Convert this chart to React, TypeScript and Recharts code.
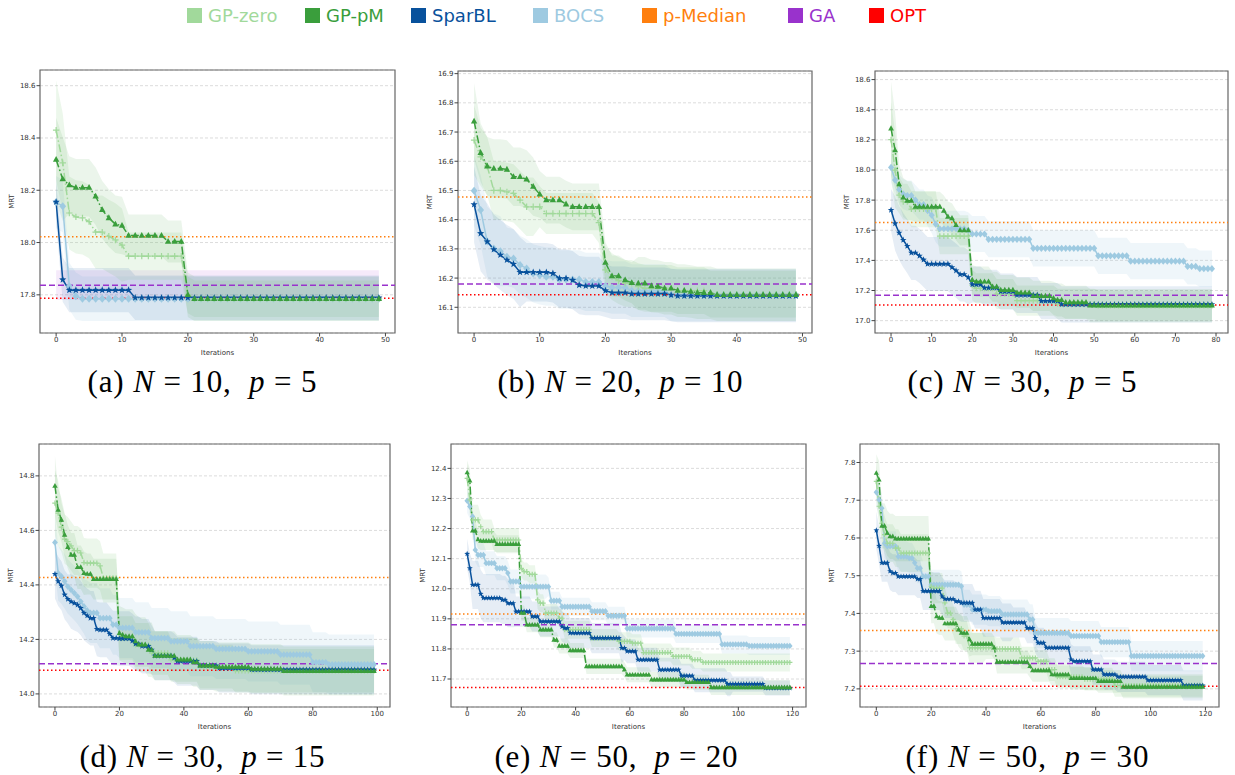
import React from 'react';
import { ComposedChart, Line, Area, XAxis, YAxis, CartesianGrid, ReferenceLine, ReferenceArea } from 'recharts';

type Runs = [number, number][]; // [value, number of iterations it is held]

const C_GZ = '#a1d99b';
const C_GP = '#3a9e3c';
const C_SB = '#08519c';
const C_BO = '#9ecae1';
const C_PM = '#ff7f0e';
const C_GA = '#9932cc';
const C_OPT = '#ff0000';

// ---- (a) N = 10, p = 5
const gzA: Runs = [[18.43, 1], [18.305, 1], [18.113, 1], [18.098, 1], [18.094, 1], [18.08, 1], [18.04, 2], [18.024, 1], [18.01, 1], [17.99, 1], [17.948, 9], [17.8, 1], [17.785, 29]];
const sdGzA: Runs = [[0.19, 2], [0.14, 9], [0.09, 9], [0.07, 30]];
const gpA: Runs = [[18.317, 1], [18.243, 1], [18.22, 1], [18.21, 3], [18.177, 1], [18.125, 1], [18.094, 1], [18.07, 1], [18.065, 1], [18.027, 6], [18.004, 3], [17.8, 1], [17.785, 29]];
const sdGpA: Runs = [[0.16, 2], [0.11, 9], [0.08, 9], [0.085, 30]];
const sbA: Runs = [[18.155, 1], [17.858, 1], [17.818, 10], [17.789, 38]];
const sdSbA: Runs = [[0.075, 1], [0.085, 49]];
const boA: Runs = [[18.155, 1], [18.139, 1], [17.833, 1], [17.795, 1], [17.785, 46]];
const sdBoA: Runs = [[0.1, 2], [0.09, 2], [0.085, 46]];
const refsA = { pm: 18.022, ga: 17.837, opt: 17.787 };
const gaBandA: [number, number] = [17.78, 17.894];
const xTicksA = [0, 10, 20, 30, 40, 50];
const yTicksA = [17.8, 18.0, 18.2, 18.4, 18.6];

// ---- (b) N = 20, p = 10
const gzB: Runs = [[16.672, 1], [16.615, 1], [16.583, 1], [16.5, 2], [16.495, 1], [16.49, 1], [16.467, 1], [16.444, 3], [16.421, 8], [16.39, 1], [16.228, 1], [16.205, 1], [16.191, 1], [16.182, 2], [16.171, 1], [16.165, 5], [16.157, 5], [16.145, 14]];
const sdGzB: Runs = [[0.12, 1], [0.1, 9], [0.07, 10], [0.08, 30]];
const gpB: Runs = [[16.737, 1], [16.629, 1], [16.583, 1], [16.575, 2], [16.572, 1], [16.547, 2], [16.538, 1], [16.513, 1], [16.487, 1], [16.467, 3], [16.453, 1], [16.444, 5], [16.253, 1], [16.207, 2], [16.193, 1], [16.184, 1], [16.182, 2], [16.173, 1], [16.171, 1], [16.165, 2], [16.157, 2], [16.154, 1], [16.15, 3], [16.143, 13]];
const sdGpB: Runs = [[0.13, 1], [0.1, 9], [0.08, 10], [0.07, 5], [0.09, 25]];
const sbB: Runs = [[16.452, 1], [16.353, 1], [16.325, 1], [16.298, 1], [16.279, 1], [16.262, 1], [16.248, 1], [16.22, 5], [16.216, 1], [16.199, 2], [16.193, 1], [16.176, 1], [16.173, 3], [16.157, 1], [16.15, 3], [16.146, 6], [16.142, 1], [16.139, 19]];
const sdSbB: Runs = [[0.13, 3], [0.12, 5], [0.1, 12], [0.09, 30]];
const boB: Runs = [[16.499, 1], [16.433, 1], [16.325, 1], [16.301, 1], [16.292, 1], [16.273, 1], [16.267, 1], [16.245, 1], [16.233, 1], [16.216, 1], [16.21, 1], [16.205, 2], [16.195, 4], [16.187, 3], [16.173, 1], [16.168, 3], [16.157, 6], [16.142, 20]];
const sdBoB: Runs = [[0.12, 5], [0.1, 15], [0.09, 30]];
const refsB = { pm: 16.478, ga: 16.18, opt: 16.143 };
const xTicksB = [0, 10, 20, 30, 40, 50];
const yTicksB = [16.1, 16.2, 16.3, 16.4, 16.5, 16.6, 16.7, 16.8, 16.9];

// ---- (c) N = 30, p = 5
const gzC: Runs = [[18.202, 1], [17.999, 1], [17.833, 1], [17.789, 2], [17.74, 7], [17.561, 8], [17.236, 1], [17.214, 5], [17.177, 5], [17.133, 10], [17.111, 10], [17.1, 29]];
const sdGzC: Runs = [[0.25, 2], [0.12, 18], [0.1, 60]];
const gpC: Runs = [[18.275, 1], [18.131, 1], [17.906, 1], [17.818, 1], [17.796, 2], [17.756, 7], [17.73, 1], [17.69, 1], [17.68, 1], [17.634, 1], [17.6, 3], [17.27, 1], [17.259, 4], [17.225, 2], [17.203, 4], [17.186, 4], [17.164, 5], [17.148, 1], [17.137, 2], [17.122, 6], [17.1, 31]];
const sdGpC: Runs = [[0.31, 1], [0.25, 1], [0.13, 4], [0.1, 34], [0.11, 40]];
const sbC: Runs = [[17.734, 1], [17.645, 1], [17.583, 1], [17.535, 1], [17.495, 1], [17.45, 2], [17.43, 1], [17.404, 1], [17.376, 6], [17.354, 1], [17.332, 1], [17.307, 2], [17.287, 1], [17.24, 3], [17.218, 4], [17.193, 4], [17.17, 6], [17.13, 5], [17.108, 38]];
const sdSbC: Runs = [[0.14, 1], [0.18, 19], [0.12, 60]];
const boC: Runs = [[18.017, 1], [17.933, 1], [17.87, 1], [17.84, 1], [17.83, 2], [17.8, 1], [17.77, 2], [17.73, 1], [17.7, 1], [17.64, 1], [17.61, 7], [17.6, 1], [17.575, 4], [17.54, 11], [17.48, 16], [17.43, 8], [17.395, 14], [17.36, 3], [17.345, 4]];
const sdBoC: Runs = [[0.1, 10], [0.12, 70]];
const refsC = { pm: 17.652, ga: 17.168, opt: 17.104 };
const xTicksC = [0, 10, 20, 30, 40, 50, 60, 70, 80];
const yTicksC = [17.0, 17.2, 17.4, 17.6, 17.8, 18.0, 18.2, 18.4, 18.6];

// ---- (d) N = 30, p = 15
const gzD: Runs = [[14.7, 1], [14.663, 1], [14.612, 1], [14.568, 1], [14.559, 1], [14.543, 1], [14.526, 2], [14.517, 1], [14.482, 1], [14.48, 4], [14.47, 1], [14.425, 5], [14.205, 5], [14.18, 5], [14.15, 6], [14.125, 9], [14.1, 11], [14.085, 44]];
const sdGzD: Runs = [[0.12, 2], [0.09, 18], [0.08, 80]];
const gpD: Runs = [[14.763, 1], [14.675, 1], [14.639, 1], [14.584, 1], [14.539, 1], [14.51, 2], [14.465, 2], [14.443, 1], [14.44, 2], [14.421, 8], [14.223, 1], [14.217, 1], [14.211, 3], [14.193, 1], [14.181, 3], [14.162, 2], [14.14, 7], [14.126, 5], [14.116, 2], [14.104, 5], [14.099, 11], [14.092, 10], [14.084, 29]];
const sdGpD: Runs = [[0.11, 1], [0.08, 9], [0.075, 10], [0.1, 11], [0.09, 69]];
const sbD: Runs = [[14.44, 1], [14.413, 1], [14.397, 1], [14.364, 1], [14.348, 1], [14.339, 1], [14.333, 1], [14.327, 1], [14.315, 1], [14.297, 1], [14.287, 1], [14.278, 2], [14.238, 1], [14.235, 3], [14.22, 1], [14.205, 2], [14.203, 4], [14.195, 1], [14.184, 2], [14.175, 3], [14.162, 1], [14.14, 6], [14.132, 1], [14.12, 7], [14.104, 6], [14.095, 10], [14.089, 39]];
const sdSbD: Runs = [[0.09, 5], [0.1, 25], [0.09, 70]];
const boD: Runs = [[14.556, 1], [14.443, 1], [14.431, 1], [14.413, 1], [14.394, 1], [14.382, 1], [14.37, 1], [14.357, 1], [14.339, 1], [14.321, 1], [14.306, 1], [14.297, 3], [14.278, 4], [14.254, 2], [14.242, 5], [14.226, 5], [14.205, 6], [14.193, 6], [14.175, 8], [14.165, 10], [14.156, 10], [14.144, 10], [14.116, 5], [14.108, 15]];
const sdBoD: Runs = [[0.1, 10], [0.11, 90]];
const refsD = { pm: 14.427, ga: 14.111, opt: 14.087 };
const xTicksD = [0, 20, 40, 60, 80, 100];
const yTicksD = [14.0, 14.2, 14.4, 14.6, 14.8];

// ---- (e) N = 50, p = 20
const gzE: Runs = [[12.367, 1], [12.295, 1], [12.229, 3], [12.206, 1], [12.19, 4], [12.162, 10], [12.068, 1], [12.057, 2], [12.048, 3], [11.963, 1], [11.952, 2], [11.919, 5], [11.902, 2], [11.864, 10], [11.836, 10], [11.825, 5], [11.819, 4], [11.788, 11], [11.775, 7], [11.764, 4], [11.755, 33]];
const sdGzE: Runs = [[0.05, 5], [0.04, 15], [0.03, 100]];
const gpE: Runs = [[12.386, 1], [12.359, 1], [12.193, 2], [12.164, 1], [12.159, 6], [12.148, 9], [11.919, 2], [11.88, 5], [11.864, 5], [11.83, 2], [11.81, 4], [11.795, 6], [11.742, 14], [11.731, 1], [11.714, 9], [11.698, 13], [11.689, 9], [11.672, 30]];
const sdGpE: Runs = [[0.04, 2], [0.03, 18], [0.025, 100]];
const sbE: Runs = [[12.116, 1], [12.068, 1], [12.013, 3], [11.983, 1], [11.969, 7], [11.963, 2], [11.952, 3], [11.924, 6], [11.908, 3], [11.891, 8], [11.874, 1], [11.869, 2], [11.853, 8], [11.836, 11], [11.803, 2], [11.792, 4], [11.764, 8], [11.731, 8], [11.711, 5], [11.696, 12], [11.683, 14], [11.67, 10]];
const sdSbE: Runs = [[0.05, 2], [0.08, 16], [0.05, 40], [0.04, 40], [0.025, 22]];
const boE: Runs = [[12.292, 1], [12.273, 1], [12.24, 1], [12.129, 1], [12.112, 3], [12.085, 4], [12.068, 4], [12.052, 1], [12.024, 4], [12.007, 11], [11.96, 4], [11.94, 11], [11.925, 6], [11.91, 7], [11.868, 18], [11.85, 17], [11.815, 10], [11.81, 16]];
const sdBoE: Runs = [[0.04, 30], [0.03, 90]];
const refsE = { pm: 11.916, ga: 11.88, opt: 11.672 };
const xTicksE = [0, 20, 40, 60, 80, 100, 120];
const yTicksE = [11.7, 11.8, 11.9, 12.0, 12.1, 12.2, 12.3, 12.4];

// ---- (f) N = 50, p = 30
const gzF: Runs = [[7.75, 1], [7.684, 1], [7.639, 1], [7.609, 1], [7.586, 3], [7.573, 2], [7.56, 11], [7.472, 1], [7.467, 4], [7.428, 1], [7.401, 2], [7.384, 1], [7.359, 3], [7.34, 2], [7.309, 10], [7.306, 9], [7.282, 6], [7.273, 4], [7.251, 3], [7.232, 10], [7.226, 11], [7.209, 33]];
const sdGzF: Runs = [[0.05, 20], [0.04, 20], [0.03, 80]];
const gpF: Runs = [[7.772, 1], [7.754, 1], [7.632, 2], [7.613, 1], [7.604, 2], [7.598, 13], [7.419, 2], [7.392, 1], [7.388, 2], [7.373, 5], [7.357, 1], [7.348, 3], [7.331, 1], [7.319, 8], [7.309, 1], [7.271, 12], [7.26, 1], [7.249, 7], [7.238, 7], [7.228, 10], [7.22, 9], [7.205, 30]];
const sdGpF: Runs = [[0.05, 2], [0.06, 18], [0.045, 15], [0.03, 85]];
const sbF: Runs = [[7.62, 1], [7.579, 1], [7.534, 3], [7.512, 1], [7.507, 2], [7.498, 7], [7.491, 2], [7.459, 7], [7.445, 1], [7.438, 4], [7.432, 2], [7.428, 5], [7.41, 3], [7.388, 7], [7.376, 9], [7.361, 3], [7.335, 1], [7.322, 3], [7.309, 9], [7.278, 1], [7.273, 7], [7.251, 4], [7.238, 5], [7.232, 11], [7.223, 13], [7.209, 8]];
const sdSbF: Runs = [[0.05, 50], [0.04, 70]];
const boF: Runs = [[7.721, 1], [7.701, 1], [7.679, 1], [7.586, 1], [7.578, 4], [7.551, 4], [7.547, 2], [7.534, 1], [7.52, 2], [7.498, 3], [7.476, 11], [7.472, 1], [7.423, 3], [7.41, 6], [7.406, 5], [7.397, 10], [7.384, 2], [7.348, 13], [7.34, 11], [7.324, 11], [7.287, 27]];
const sdBoF: Runs = [[0.04, 120]];
const refsF = { pm: 7.355, ga: 7.267, opt: 7.207 };
const xTicksF = [0, 20, 40, 60, 80, 100, 120];
const yTicksF = [7.2, 7.3, 7.4, 7.5, 7.6, 7.7, 7.8];

const expand = (runs: Runs) => runs.flatMap(([v, n]) => Array(n).fill(v) as number[]);

function buildRows(cols: { key: string; mean: Runs; sd: Runs }[]) {
  const ex = cols.map((c) => ({ key: c.key, m: expand(c.mean), d: expand(c.sd) }));
  return ex[0].m.map((_, i) => {
    const r: any = { it: i };
    ex.forEach((c) => {
      r[c.key] = c.m[i];
      r[c.key + 'B'] = [c.m[i] - c.d[i], c.m[i] + c.d[i]];
    });
    return r;
  });
}

function marker(kind: string, color: string, s: number) {
  return (p: any) => {
    const { cx, cy, index } = p;
    const k = `${kind}-${index}`;
    if (cx == null || cy == null) return <g key={k} />;
    if (kind === 'tri')
      return <polygon key={k} points={`${cx},${cy - 3.6 * s} ${cx - 3.2 * s},${cy + 2.2 * s} ${cx + 3.2 * s},${cy + 2.2 * s}`} fill={color} />;
    if (kind === 'plus')
      return <path key={k} d={`M${cx - 3.2 * s},${cy}H${cx + 3.2 * s}M${cx},${cy - 3.2 * s}V${cy + 3.2 * s}`} stroke={color} strokeWidth={1.2} fill="none" />;
    if (kind === 'star') {
      const pts: string[] = [];
      for (let j = 0; j < 10; j++) {
        const r = (j % 2 === 0 ? 3.8 : 1.6) * s;
        const a = -Math.PI / 2 + (j * Math.PI) / 5;
        pts.push(`${cx + r * Math.cos(a)},${cy + r * Math.sin(a)}`);
      }
      return <polygon key={k} points={pts.join(' ')} fill={color} />;
    }
    return <polygon key={k} points={`${cx},${cy - 4 * s} ${cx + 3.4 * s},${cy} ${cx},${cy + 4 * s} ${cx - 3.4 * s},${cy}`} fill={color} />;
  };
}

const SERIES = [
  { key: 'bo', color: C_BO, kind: 'dia', dash: undefined, band: 0.16 },
  { key: 'gz', color: C_GZ, kind: 'plus', dash: '8 2.5 1.5 2.5', band: 0.2 },
  { key: 'sb', color: C_SB, kind: 'star', dash: undefined, band: 0.1 },
  { key: 'gp', color: C_GP, kind: 'tri', dash: '8 2.5 1.5 2.5', band: 0.1 },
];

const tickStyle = { fontSize: 7, fill: '#333', fontFamily: 'DejaVu Sans' };

interface PanelCfg {
  L: number; T: number; R: number; B: number;
  xd: [number, number]; yd: [number, number];
  xt: number[]; yt: number[];
  data: any[];
  refs: { pm: number; ga: number; opt: number };
  gaBand?: [number, number];
  label: string; nTxt: string; pTxt: string; capX: number; capY: number; capW: number;
  ms: number;
}

function Caption({ c }: { c: PanelCfg }) {
  return (
    <svg width={400} height={44} style={{ position: 'absolute', left: c.capX - 200, top: c.capY - 32 }}>
      <text
        x={200 - c.capW / 2} y={32} textLength={c.capW} lengthAdjust="spacing"
        fontFamily="Liberation Serif" fontSize={31} fill="#000"
      >
        <tspan>{`(${c.label}) `}</tspan>
        <tspan fontStyle="italic">N</tspan>
        <tspan>{` = ${c.nTxt},\u00a0 `}</tspan>
        <tspan fontStyle="italic">p</tspan>
        <tspan>{` = ${c.pTxt}`}</tspan>
      </text>
    </svg>
  );
}

function Panel({ c }: { c: PanelCfg }) {
  const w = c.R - c.L + 55;
  const h = c.B - c.T + 29;
  const last = c.data.length - 1;
  return (
    <>
      <div style={{ position: 'absolute', left: c.L - 50, top: c.T - 5 }}>
        <ComposedChart width={w} height={h} data={c.data} margin={{ top: 5, right: 5, left: 0, bottom: 0 }}>
          <CartesianGrid vertical={false} strokeDasharray="3 2" stroke="#dcdcdc" />
          <XAxis
            dataKey="it" type="number" domain={c.xd} ticks={c.xt} allowDataOverflow height={24}
            axisLine={false} tickSize={3.5} tickMargin={1} tick={tickStyle} tickLine={{ stroke: '#444' }}
            label={{ value: 'Iterations', position: 'insideBottom', offset: 2, style: tickStyle }}
          />
          <YAxis
            type="number" domain={c.yd} ticks={c.yt} allowDataOverflow width={50}
            axisLine={false} tickSize={3.5} tickMargin={1} tick={tickStyle} tickLine={{ stroke: '#444' }}
            tickFormatter={(v: number) => v.toFixed(1)}
            label={{ value: 'MRT', angle: -90, position: 'insideLeft', offset: 22, style: { ...tickStyle, textAnchor: 'middle' } }}
          />
          {c.gaBand && (
            <ReferenceArea x1={0} x2={last} y1={c.gaBand[0]} y2={c.gaBand[1]} fill={C_GA} fillOpacity={0.1} stroke="none" ifOverflow="visible" />
          )}
          {SERIES.map((s) => (
            <Area key={s.key + 'B'} type="linear" dataKey={s.key + 'B'} stroke="none" fill={s.color} fillOpacity={s.band} isAnimationActive={false} activeDot={false} />
          ))}
          {SERIES.map((s) => (
            <Line
              key={s.key} type="linear" dataKey={s.key} stroke={s.color} strokeWidth={1.5} strokeDasharray={s.dash}
              dot={marker(s.kind, s.color, c.ms)} activeDot={false} isAnimationActive={false}
            />
          ))}
          <ReferenceLine y={c.refs.pm} stroke={C_PM} strokeWidth={1.5} strokeDasharray="1.5 2.5" />
          <ReferenceLine y={c.refs.ga} stroke={C_GA} strokeWidth={1.5} strokeDasharray="6 3" />
          <ReferenceLine y={c.refs.opt} stroke={C_OPT} strokeWidth={1.5} strokeDasharray="1.5 2.5" />
          <ReferenceArea x1={c.xd[0]} x2={c.xd[1]} y1={c.yd[0]} y2={c.yd[1]} fill="none" stroke="#666" strokeWidth={1.2} ifOverflow="visible" />
        </ComposedChart>
      </div>
      <Caption c={c} />
    </>
  );
}

const PANELS: PanelCfg[] = [
  {
    L: 40, T: 70, R: 395, B: 333, xd: [-2.45, 51.45], yd: [17.654, 18.66], xt: xTicksA, yt: yTicksA,
    data: buildRows([{ key: 'gz', mean: gzA, sd: sdGzA }, { key: 'gp', mean: gpA, sd: sdGpA }, { key: 'sb', mean: sbA, sd: sdSbA }, { key: 'bo', mean: boA, sd: sdBoA }]),
    refs: refsA, gaBand: gaBandA, label: 'a', nTxt: '10', pTxt: '5', capX: 202, capY: 392, capW: 229, ms: 1,
  },
  {
    L: 458, T: 71, R: 812, B: 333, xd: [-2.45, 51.45], yd: [16.012, 16.909], xt: xTicksB, yt: yTicksB,
    data: buildRows([{ key: 'gz', mean: gzB, sd: sdGzB }, { key: 'gp', mean: gpB, sd: sdGpB }, { key: 'sb', mean: sbB, sd: sdSbB }, { key: 'bo', mean: boB, sd: sdBoB }]),
    refs: refsB, label: 'b', nTxt: '20', pTxt: '10', capX: 620, capY: 392, capW: 245, ms: 1,
  },
  {
    L: 875, T: 71, R: 1228, B: 333, xd: [-3.95, 82.95], yd: [16.918, 18.657], xt: xTicksC, yt: yTicksC,
    data: buildRows([{ key: 'gz', mean: gzC, sd: sdGzC }, { key: 'gp', mean: gpC, sd: sdGpC }, { key: 'sb', mean: sbC, sd: sdSbC }, { key: 'bo', mean: boC, sd: sdBoC }]),
    refs: refsC, label: 'c', nTxt: '30', pTxt: '5', capX: 1022, capY: 392, capW: 229, ms: 0.9,
  },
  {
    L: 39, T: 444, R: 390, B: 707, xd: [-4.95, 103.95], yd: [13.952, 14.917], xt: xTicksD, yt: yTicksD,
    data: buildRows([{ key: 'gz', mean: gzD, sd: sdGzD }, { key: 'gp', mean: gpD, sd: sdGpD }, { key: 'sb', mean: sbD, sd: sdSbD }, { key: 'bo', mean: boD, sd: sdBoD }]),
    refs: refsD, label: 'd', nTxt: '30', pTxt: '15', capX: 202, capY: 767, capW: 245, ms: 0.85,
  },
  {
    L: 451, T: 444, R: 806, B: 707, xd: [-5.95, 124.95], yd: [11.607, 12.481], xt: xTicksE, yt: yTicksE,
    data: buildRows([{ key: 'gz', mean: gzE, sd: sdGzE }, { key: 'gp', mean: gpE, sd: sdGpE }, { key: 'sb', mean: sbE, sd: sdSbE }, { key: 'bo', mean: boE, sd: sdBoE }]),
    refs: refsE, label: 'e', nTxt: '50', pTxt: '20', capX: 616, capY: 767, capW: 243, ms: 0.8,
  },
  {
    L: 860, T: 444, R: 1219, B: 707, xd: [-5.95, 124.95], yd: [7.152, 7.849], xt: xTicksF, yt: yTicksF,
    data: buildRows([{ key: 'gz', mean: gzF, sd: sdGzF }, { key: 'gp', mean: gpF, sd: sdGpF }, { key: 'sb', mean: sbF, sd: sdSbF }, { key: 'bo', mean: boF, sd: sdBoF }]),
    refs: refsF, label: 'f', nTxt: '50', pTxt: '30', capX: 1027, capY: 767, capW: 243, ms: 0.8,
  },
];

const LEGEND = [
  { name: 'GP-zero', color: C_GZ, x: 187 },
  { name: 'GP-pM', color: C_GP, x: 305 },
  { name: 'SparBL', color: C_SB, x: 411 },
  { name: 'BOCS', color: C_BO, x: 533 },
  { name: 'p-Median', color: C_PM, x: 642 },
  { name: 'GA', color: C_GA, x: 788 },
  { name: 'OPT', color: C_OPT, x: 869 },
];

export default function App() {
  return (
    <div style={{ position: 'absolute', left: 0, top: 0, width: 1235, height: 775, background: '#fff', fontFamily: 'DejaVu Sans' }}>
      {LEGEND.map((l) => (
        <div key={l.name} style={{ position: 'absolute', left: l.x, top: 3, height: 24, display: 'flex', alignItems: 'center', whiteSpace: 'nowrap' }}>
          <span style={{ display: 'inline-block', width: 15, height: 15, background: l.color, marginRight: 6 }} />
          <span style={{ color: l.color, fontSize: 18 }}>{l.name}</span>
        </div>
      ))}
      {PANELS.map((p) => (
        <Panel key={p.label} c={p} />
      ))}
    </div>
  );
}
